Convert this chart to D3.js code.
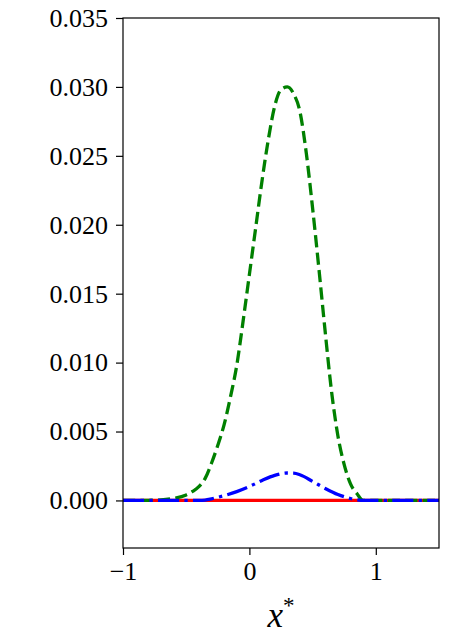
<!DOCTYPE html>
<html>
<head>
<meta charset="utf-8">
<script src="https://cdn.jsdelivr.net/npm/d3@7"></script>
</head>
<body style="margin:0">
<script>
// values
var redX = [-1, 1.5];
var redY = [0, 0];

var greenX = [-1, -0.8, -0.7, -0.6, -0.5, -0.45, -0.4, -0.35, -0.3, -0.25, -0.2, -0.15, -0.1, -0.05, 0.0, 0.05, 0.1, 0.15, 0.2, 0.25, 0.3, 0.35, 0.4, 0.45, 0.5, 0.55, 0.6, 0.65, 0.7, 0.75, 0.8, 0.85, 0.9, 1.0, 1.5];
var greenY = [0, 0.00001, 0.00004, 0.00015, 0.0004, 0.00065, 0.001, 0.0016, 0.0027, 0.004, 0.0055, 0.0075, 0.0098, 0.013, 0.0164, 0.0198, 0.0232, 0.0262, 0.0286, 0.0298, 0.0300, 0.0295, 0.0282, 0.0252, 0.0212, 0.0168, 0.0122, 0.0079, 0.0047, 0.0026, 0.0012, 0.0005, 0, 0, 0];

var blueX = [-1, -0.4, -0.35, -0.3, -0.2, -0.1, 0.0, 0.1, 0.2, 0.3, 0.35, 0.4, 0.5, 0.6, 0.7, 0.8, 0.85, 0.9, 1.5];
var blueY = [0, 0, 0.00003, 0.00012, 0.00035, 0.00064, 0.00101, 0.00145, 0.00182, 0.00199, 0.00198, 0.00186, 0.00138, 0.00087, 0.00043, 0.00014, 0.00005, 0, 0];

var xTicks = [-1, 0, 1];
var yTicks = [0, 0.005, 0.010, 0.015, 0.020, 0.025, 0.030, 0.035];

var width = 458, height = 643;
var margin = {top: 18, right: 19, bottom: 95, left: 123};
var w = width - margin.left - margin.right;
var h = height - margin.top - margin.bottom;
var lw = 3.3;

var svg = d3.select('body').append('svg')
  .attr('width', width)
  .attr('height', height)
  .style('display', 'block');

var g = svg.append('g')
  .attr('transform', 'translate(' + margin.left + ',' + margin.top + ')');

var x = d3.scaleLinear().domain([-1, 1.5]).range([0, w]);
var y = d3.scaleLinear().domain([-0.00345, 0.035]).range([h, 0]);

g.append('defs').append('clipPath').attr('id', 'clip')
  .append('rect').attr('width', w).attr('height', h);

var line = d3.line()
  .x(function (d) { return x(d[0]); })
  .y(function (d) { return y(d[1]); })
  .curve(d3.curveMonotoneX);

function pairs(xs, ys) {
  return xs.map(function (v, i) { return [v, ys[i]]; });
}

var plot = g.append('g').attr('clip-path', 'url(#clip)');

plot.append('path')
  .datum(pairs(redX, redY))
  .attr('d', line)
  .attr('fill', 'none')
  .attr('stroke', '#ff0000')
  .attr('stroke-width', lw);

plot.append('path')
  .datum(pairs(greenX, greenY))
  .attr('d', line)
  .attr('fill', 'none')
  .attr('stroke', '#008000')
  .attr('stroke-width', lw)
  .attr('stroke-dasharray', [3.7 * lw, 1.6 * lw].join(','));

plot.append('path')
  .datum(pairs(blueX, blueY))
  .attr('d', line)
  .attr('fill', 'none')
  .attr('stroke', '#0000ff')
  .attr('stroke-width', lw)
  .attr('stroke-dasharray', [6.4 * lw, 1.6 * lw, 1 * lw, 1.6 * lw].join(','));

// axes
var xAxis = d3.axisBottom(x).tickValues(xTicks).tickSize(7).tickPadding(7)
  .tickFormat(function (d) { return d < 0 ? '\u2212' + Math.abs(d) : d; });
var yAxis = d3.axisLeft(y).tickValues(yTicks).tickSize(7).tickPadding(8)
  .tickFormat(d3.format('.3f'));

var gx = g.append('g').attr('transform', 'translate(0,' + h + ')').call(xAxis);
var gy = g.append('g').call(yAxis);

[gx, gy].forEach(function (a) {
  a.attr('font-family', null).attr('font-size', null);
  a.select('.domain').remove();
  a.selectAll('.tick line').attr('stroke', '#000').attr('stroke-width', 1.2);
  a.selectAll('.tick text')
    .attr('fill', '#000')
    .style('font-family', "'Liberation Serif'")
    .style('font-size', '26px');
});

// frame
g.append('rect')
  .attr('width', w)
  .attr('height', h)
  .attr('fill', 'none')
  .attr('stroke', '#000')
  .attr('stroke-width', 1.2);

// x label
var lab = svg.append('text')
  .attr('x', margin.left + w / 2)
  .attr('y', 627)
  .attr('text-anchor', 'middle')
  .style('font-family', "'Liberation Serif'")
  .style('font-size', '35px');
lab.append('tspan').style('font-style', 'italic').text('x');
lab.append('tspan').attr('dy', -14).style('font-size', '23px').text('*');
</script>
</body>
</html>
